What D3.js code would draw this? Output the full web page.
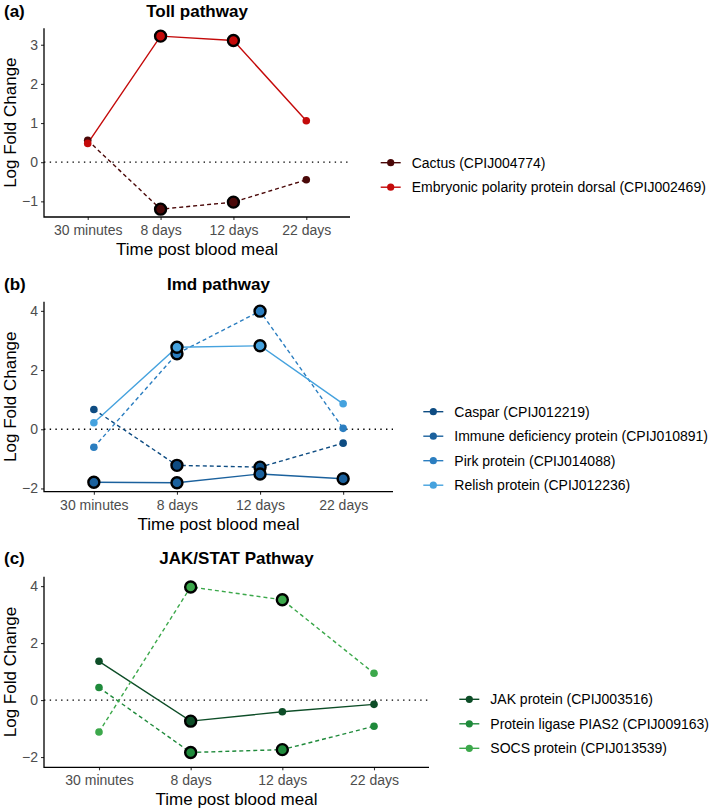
<!DOCTYPE html>
<html><head><meta charset="utf-8">
<script src="https://cdn.jsdelivr.net/npm/d3@7"></script>
<style>body{margin:0;background:#fff}svg{display:block;font-family:"Liberation Sans",Arial,sans-serif}</style>
</head><body>
<svg id="chart" width="709" height="810"></svg>
<script>
// ---------- data ----------
const timepoints = ["30 minutes", "8 days", "12 days", "22 days"];

const tollGenes = ["Cactus (CPIJ004774)", "Embryonic polarity protein dorsal (CPIJ002469)"];
const tollValues = [
  [0.56, -1.20, -1.02, -0.45],
  [0.48, 3.22, 3.11, 1.06]
];
const tollSignificant = [[0,1,1,0],[0,1,1,0]];
const tollDashed = [true, false];
const tollTicks = [-1, 0, 1, 2, 3];

const imdGenes = ["Caspar (CPIJ012219)", "Immune deficiency protein (CPIJ010891)", "Pirk protein (CPIJ014088)", "Relish protein (CPIJ012236)"];
const imdValues = [
  [0.67, -1.22, -1.28, -0.47],
  [-1.79, -1.81, -1.51, -1.67],
  [-0.61, 2.55, 3.99, 0.03],
  [0.22, 2.77, 2.82, 0.86]
];
const imdSignificant = [[0,1,1,0],[1,1,1,1],[0,1,1,0],[0,1,1,0]];
const imdDashed = [true, false, true, false];
const imdTicks = [-2, 0, 2, 4];

const jakGenes = ["JAK protein (CPIJ003516)", "Protein ligase PIAS2 (CPIJ009163)", "SOCS protein (CPIJ013539)"];
const jakValues = [
  [1.36, -0.74, -0.41, -0.15],
  [0.44, -1.84, -1.74, -0.92],
  [-1.12, 3.97, 3.52, 0.94]
];
const jakSignificant = [[0,1,0,0],[0,1,1,0],[0,1,1,0]];
const jakDashed = [false, true, true];
const jakTicks = [-2, 0, 2, 4];

// ---------- layout / style ----------
const panels = [
  {tag:"(a)", title:"Toll pathway", genes:tollGenes, values:tollValues, sig:tollSignificant, dashed:tollDashed, ticks:tollTicks,
   colors:["#4a0808","#c40a0a"], x0:44, x1:350, yTop:28.3, yBot:217, domain:[-1.40, 3.42], titleY:17, legendX:380.7, legendY:162.7},
  {tag:"(b)", title:"Imd pathway", genes:imdGenes, values:imdValues, sig:imdSignificant, dashed:imdDashed, ticks:imdTicks,
   colors:["#0e4c82","#1b619d","#2b7ec0","#45a2de"], x0:44, x1:393, yTop:301.7, yBot:491.7, domain:[-2.11, 4.31], titleY:290, legendX:423.3, legendY:411.7},
  {tag:"(c)", title:"JAK/STAT Pathway", genes:jakGenes, values:jakValues, sig:jakSignificant, dashed:jakDashed, ticks:jakTicks,
   colors:["#0d4d27","#1f8a3b","#3ca84b"], x0:44, x1:429, yTop:576.7, yBot:767.3, domain:[-2.36, 4.33], titleY:564.3, legendX:459.3, legendY:699.3}
];

const svg = d3.select("#chart");

panels.forEach(p => {
  const g = svg.append("g");
  const step = (p.x1 - p.x0) / 4.2;
  const x = d3.scalePoint().domain(timepoints).range([p.x0 + 0.6*step, p.x1 - 0.6*step]);
  const y = d3.scaleLinear().domain(p.domain).range([p.yBot, p.yTop]);

  // tag & title
  g.append("text").attr("x", 4).attr("y", p.titleY).attr("font-size", 17).attr("font-weight", "bold").text(p.tag);
  g.append("text").attr("x", (p.x0 + p.x1)/2).attr("y", p.titleY).attr("text-anchor", "middle")
    .attr("font-size", 17).attr("font-weight", "bold").text(p.title);

  // zero line
  g.append("line").attr("x1", p.x0).attr("x2", p.x1).attr("y1", y(0)).attr("y2", y(0))
    .attr("stroke", "#000").attr("stroke-width", 1.3).attr("stroke-dasharray", "1.4,4.3");

  // axes
  const yAxis = d3.axisLeft(y).tickValues(p.ticks).tickSize(3).tickPadding(3).tickFormat(d3.format("d"));
  const ya = g.append("g").attr("transform", `translate(${p.x0},0)`).call(yAxis);
  const xAxis = d3.axisBottom(x).tickSize(3).tickPadding(4);
  const xa = g.append("g").attr("transform", `translate(0,${p.yBot})`).call(xAxis);
  [ya, xa].forEach(a => {
    a.select(".domain").remove();
    a.selectAll(".tick line").attr("stroke", "#333").attr("stroke-width", 1.1);
    a.selectAll(".tick text").attr("fill", "#4d4d4d").attr("font-size", 14).attr("font-family", "Liberation Sans, Arial, sans-serif");
  });
  xa.selectAll(".tick text").attr("dy", null).attr("y", 18);
  g.append("path").attr("d", `M${p.x0},${p.yTop}V${p.yBot}H${p.x1}`).attr("fill", "none")
    .attr("stroke", "#000").attr("stroke-width", 1.3);

  // axis titles
  g.append("text").attr("x", (p.x0 + p.x1)/2).attr("y", p.yBot + 38).attr("text-anchor", "middle")
    .attr("font-size", 17).text("Time post blood meal");
  g.append("text").attr("transform", `translate(15.5,${(p.yTop + p.yBot)/2}) rotate(-90)`)
    .attr("text-anchor", "middle").attr("font-size", 17).text("Log Fold Change");

  // lines
  const line = d3.line().x((d,i) => x(timepoints[i])).y(d => y(d));
  p.values.forEach((vals, k) => {
    g.append("path").attr("d", line(vals)).attr("fill", "none").attr("stroke", p.colors[k])
      .attr("stroke-width", 1.4).attr("stroke-dasharray", p.dashed[k] ? "4,3" : null);
  });
  // points
  p.values.forEach((vals, k) => {
    vals.forEach((v, i) => {
      const big = p.sig[k][i] === 1;
      g.append("circle").attr("cx", x(timepoints[i])).attr("cy", y(v))
        .attr("r", big ? 5.5 : 3.8).attr("fill", p.colors[k])
        .attr("stroke", big ? "#000" : "none").attr("stroke-width", big ? 2.4 : 0);
    });
  });

  // legend
  p.genes.forEach((name, k) => {
    const ly = p.legendY + k * 24.5;
    g.append("line").attr("x1", p.legendX).attr("x2", p.legendX + 20).attr("y1", ly).attr("y2", ly)
      .attr("stroke", p.colors[k]).attr("stroke-width", 1.4);
    g.append("circle").attr("cx", p.legendX + 10).attr("cy", ly).attr("r", 3.6).attr("fill", p.colors[k]);
    g.append("text").attr("x", p.legendX + 31).attr("y", ly).attr("dy", "0.35em")
      .attr("font-size", 14).text(name);
  });
});
</script>
</body></html>
